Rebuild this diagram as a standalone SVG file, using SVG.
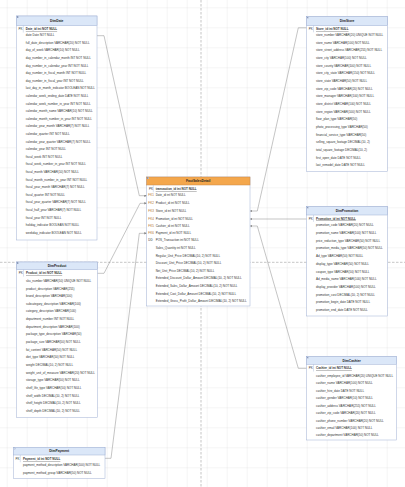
<svg xmlns="http://www.w3.org/2000/svg" width="405" height="487" viewBox="0 0 405 487">
<defs>
<pattern id="grid" patternUnits="userSpaceOnUse" x="6.7" y="7.3" width="20" height="20">
<path d="M0 0 H20 M0 0 V20" fill="none" stroke="#d8d8d8" stroke-width="0.5"/>
</pattern>
<marker id="arr" viewBox="0 0 6 6" refX="6" refY="3" markerWidth="2.4" markerHeight="2.4" markerUnits="userSpaceOnUse" orient="auto">
<path d="M0 0 L6 3 L0 6 z" fill="#808080"/>
</marker>
<style>
.box{fill:#fff;stroke:#9fb0d4;stroke-width:0.5}
.hdr{fill:#dbe7f8;stroke:#9fb0d4;stroke-width:0.5}
.hdrf{fill:#f4a74c;stroke:#c8894a;stroke-width:0.5}
.div{stroke:#9fb0d4;stroke-width:0.4}
.ico{fill:#c9d3e6;stroke:#8090b0;stroke-width:0.2}
.t{font-family:"Liberation Sans",Arial,sans-serif;font-size:3px;fill:#333}
.ttl{font-family:"Liberation Sans",Arial,sans-serif;font-size:3.3px;font-weight:bold;fill:#222;text-anchor:middle}
.pk{text-decoration:underline;font-weight:bold}
.lb{font-family:"Liberation Sans",Arial,sans-serif;font-size:3px;fill:#333}
.fk{fill:#b0722e}
.conn{fill:none;stroke:#8a8a8a;stroke-width:0.5}
.brk{stroke:#8a8a8a;stroke-width:0.5;stroke-dasharray:2.5,1.5}
</style>
</defs>
<rect width="405" height="487" fill="#fff"/>
<rect width="405" height="487" fill="url(#grid)"/>
<line class="brk" x1="201" y1="0" x2="201" y2="487"/>
<line class="brk" x1="0" y1="262.3" x2="405" y2="262.3"/>

<g id="connectors">
<path class="conn" d="M97,35.7 H104 L139.3,195.7 H146.7" marker-end="url(#arr)"/>
<path class="conn" d="M97.3,273.3 H104 L140,203.3 H146.7" marker-end="url(#arr)"/>
<path class="conn" d="M105,458.3 H111 L139.3,233.3 H146.7" marker-end="url(#arr)"/>
<path class="conn" d="M306.7,27.8 H298.3 L257.3,211 H250" marker-end="url(#arr)"/>
<path class="conn" d="M306.7,219 H250" marker-end="url(#arr)"/>
<path class="conn" d="M306.7,368.3 H298.3 L257.3,226 H250" marker-end="url(#arr)"/>
</g>

<g id="DimDate">
<rect class="box" x="16.5" y="16" width="80.5" height="224"/>
<rect class="hdr" x="16.5" y="16" width="80.5" height="9.7"/>
<rect class="ico" x="17.3" y="16.6" width="1.3" height="1.3"/>
<text class="ttl" x="56.75" y="22">DimDate</text>
<line class="div" x1="23.3" y1="25.7" x2="23.3" y2="32.5"/>
<text class="lb" x="18.5" y="30.1">PK</text>
<text class="t pk" x="25.8" y="30.1">Date_id int NOT NULL</text>
<text class="t" x="25.8" y="36.1">date Date NOT NULL</text>
<text class="t" x="25.8" y="43.7">full_date_description VARCHAR(20) NOT NULL</text>
<text class="t" x="25.8" y="51.3">day_of_week VARCHAR(10) NOT NULL</text>
<text class="t" x="25.8" y="58.9">day_number_in_calendar_month INT NOT NULL</text>
<text class="t" x="25.8" y="66.5">day_number_in_calendar_year INT NOT NULL</text>
<text class="t" x="25.8" y="74.1">day_number_in_fiscal_month INT NOT NULL</text>
<text class="t" x="25.8" y="81.7">day_number_in_fiscal_year INT NOT NULL</text>
<text class="t" x="25.8" y="89.3">last_day_in_month_indicator BOOLEAN NOT NULL</text>
<text class="t" x="25.8" y="96.9">calendar_week_ending_date DATE NOT NULL</text>
<text class="t" x="25.8" y="104.5">calendar_week_number_in_year INT NOT NULL</text>
<text class="t" x="25.8" y="112.1">calendar_month_name VARCHAR(10) NOT NULL</text>
<text class="t" x="25.8" y="119.7">calendar_month_number_in_year INT NOT NULL</text>
<text class="t" x="25.8" y="127.3">calendar_year_month VARCHAR(7) NOT NULL</text>
<text class="t" x="25.8" y="134.9">calendar_quarter INT NOT NULL</text>
<text class="t" x="25.8" y="142.5">calendar_year_quarter VARCHAR(7) NOT NULL</text>
<text class="t" x="25.8" y="150.1">calendar_year INT NOT NULL</text>
<text class="t" x="25.8" y="157.7">fiscal_week INT NOT NULL</text>
<text class="t" x="25.8" y="165.3">fiscal_week_number_in_year INT NOT NULL</text>
<text class="t" x="25.8" y="172.9">fiscal_month VARCHAR(10) NOT NULL</text>
<text class="t" x="25.8" y="180.5">fiscal_month_number_in_year INT NOT NULL</text>
<text class="t" x="25.8" y="188.1">fiscal_year_month VARCHAR(7) NOT NULL</text>
<text class="t" x="25.8" y="195.7">fiscal_quarter INT NOT NULL</text>
<text class="t" x="25.8" y="203.3">fiscal_year_quarter VARCHAR(7) NOT NULL</text>
<text class="t" x="25.8" y="210.9">fiscal_half_year VARCHAR(7) NOT NULL</text>
<text class="t" x="25.8" y="218.5">fiscal_year INT NOT NULL</text>
<text class="t" x="25.8" y="226.1">holiday_indicator BOOLEAN NOT NULL</text>
<text class="t" x="25.8" y="233.7">weekday_indicator BOOLEAN NOT NULL</text>
</g>

<g id="DimStore">
<rect class="box" x="306.7" y="16.7" width="80.6" height="155"/>
<rect class="hdr" x="306.7" y="16.7" width="80.6" height="9"/>
<rect class="ico" x="307.5" y="17.3" width="1.3" height="1.3"/>
<text class="ttl" x="347" y="22.3">DimStore</text>
<line class="div" x1="313.5" y1="25.7" x2="313.5" y2="32.3"/>
<text class="lb" x="308.7" y="30.1">PK</text>
<text class="t pk" x="316" y="30.1">Store_id int NOT NULL</text>
<text class="t" x="316" y="36.1">store_number VARCHAR(20) UNIQUE NOT NULL</text>
<text class="t" x="316" y="43.8">store_name VARCHAR(100) NOT NULL</text>
<text class="t" x="316" y="51.4">store_street_address VARCHAR(255) NOT NULL</text>
<text class="t" x="316" y="59.1">store_city VARCHAR(100) NOT NULL</text>
<text class="t" x="316" y="66.7">store_county VARCHAR(100) NOT NULL</text>
<text class="t" x="316" y="74.4">store_city_state VARCHAR(150) NOT NULL</text>
<text class="t" x="316" y="82.1">store_state VARCHAR(50) NOT NULL</text>
<text class="t" x="316" y="89.7">store_zip_code VARCHAR(20) NOT NULL</text>
<text class="t" x="316" y="97.4">store_manager VARCHAR(100) NOT NULL</text>
<text class="t" x="316" y="105">store_district VARCHAR(100) NOT NULL</text>
<text class="t" x="316" y="112.7">store_region VARCHAR(100) NOT NULL</text>
<text class="t" x="316" y="120.4">floor_plan_type VARCHAR(50)</text>
<text class="t" x="316" y="128">photo_processing_type VARCHAR(50)</text>
<text class="t" x="316" y="135.7">financial_service_type VARCHAR(50)</text>
<text class="t" x="316" y="143.3">selling_square_footage DECIMAL(10, 2)</text>
<text class="t" x="316" y="151">total_square_footage DECIMAL(10, 2)</text>
<text class="t" x="316" y="158.7">first_open_date DATE NOT NULL</text>
<text class="t" x="316" y="166.3">last_remodel_date DATE NOT NULL</text>
</g>

<g id="DimPromotion">
<rect class="box" x="306.7" y="206.7" width="80.6" height="109.3"/>
<rect class="hdr" x="306.7" y="206.7" width="80.6" height="8.3"/>
<rect class="ico" x="307.5" y="207.3" width="1.3" height="1.3"/>
<text class="ttl" x="347" y="212">DimPromotion</text>
<line class="div" x1="313.5" y1="215" x2="313.5" y2="221.8"/>
<text class="lb" x="308.7" y="219.6">PK</text>
<text class="t pk" x="316" y="219.6">Promotion_id int NOT NULL</text>
<text class="t" x="316" y="226.1">promotion_code VARCHAR(20) NOT NULL</text>
<text class="t" x="316" y="233.8">promotion_name VARCHAR(100) NOT NULL</text>
<text class="t" x="316" y="241.6">price_reduction_type VARCHAR(50) NOT NULL</text>
<text class="t" x="316" y="249.3">promotion_media_type VARCHAR(50) NOT NULL</text>
<text class="t" x="316" y="257">Ad_type VARCHAR(50) NOT NULL</text>
<text class="t" x="316" y="264.8">display_type VARCHAR(50) NOT NULL</text>
<text class="t" x="316" y="272.5">coupon_type VARCHAR(50) NOT NULL</text>
<text class="t" x="316" y="280.2">Ad_media_name VARCHAR(100) NOT NULL</text>
<text class="t" x="316" y="288">display_provider VARCHAR(100) NOT NULL</text>
<text class="t" x="316" y="295.7">promotion_cost DECIMAL(10, 2) NOT NULL</text>
<text class="t" x="316" y="303.4">promotion_begin_date DATE NOT NULL</text>
<text class="t" x="316" y="311.1">promotion_end_date DATE NOT NULL</text>
</g>

<g id="FactSalesDetail">
<rect class="box" x="146.7" y="177" width="103.3" height="129"/>
<rect class="hdrf" x="146.7" y="177" width="103.3" height="8"/>
<rect class="ico" x="147.5" y="177.6" width="1.3" height="1.3"/>
<text class="ttl" x="198.3" y="182.2">FactSalesDetail</text>
<line class="div" x1="153.3" y1="185" x2="153.3" y2="192.2"/>
<text class="lb" x="149" y="190.1">PK</text>
<text class="t pk" x="155.7" y="190.1">transaction_id int NOT NULL</text>
<text class="lb fk" x="148.3" y="196.1">FK1</text>
<text class="t" x="155.7" y="196.1">Date_id int NOT NULL</text>
<text class="lb fk" x="148.3" y="203.7">FK2</text>
<text class="t" x="155.7" y="203.7">Product_id int NOT NULL</text>
<text class="lb fk" x="148.3" y="211.8">FK3</text>
<text class="t" x="155.7" y="211.8">Store_id int NOT NULL</text>
<text class="lb fk" x="148.3" y="219.8">FK4</text>
<text class="t" x="155.7" y="219.8">Promotion_id int NOT NULL</text>
<text class="lb fk" x="148.3" y="226.8">FK5</text>
<text class="t" x="155.7" y="226.8">Cashier_id int NOT NULL</text>
<text class="lb fk" x="148.3" y="234.1">FK6</text>
<text class="t" x="155.7" y="234.1">Payment_id int NOT NULL</text>
<text class="lb" x="148.3" y="241.4">DD</text>
<text class="t" x="155.7" y="241.4">POS_Transaction int NOT NULL</text>
<text class="t" x="155.7" y="249.3">Sales_Quantity int NOT NULL</text>
<text class="t" x="155.7" y="256.8">Regular_Unit_Price DECIMAL(10, 2) NOT NULL</text>
<text class="t" x="155.7" y="264.4">Discount_Unit_Price DECIMAL(10, 2) NOT NULL</text>
<text class="t" x="155.7" y="271.8">Net_Unit_Price DECIMAL(10, 2) NOT NULL</text>
<text class="t" x="155.7" y="279.4">Extended_Discount_Dollar_Amount DECIMAL(10, 2) NOT NULL</text>
<text class="t" x="155.7" y="287.1">Extended_Sales_Dollar_Amount DECIMAL(10, 2) NOT NULL</text>
<text class="t" x="155.7" y="294.8">Extended_Cost_Dollar_Amount DECIMAL(10, 2) NOT NULL</text>
<text class="t" x="155.7" y="301.8">Extended_Gross_Profit_Dollar_Amount DECIMAL(10, 2) NOT NULL</text>
</g>

<g id="DimProduct">
<rect class="box" x="16.7" y="262" width="80.6" height="155.3"/>
<rect class="hdr" x="16.7" y="262" width="80.6" height="7.7"/>
<rect class="ico" x="17.5" y="262.6" width="1.3" height="1.3"/>
<text class="ttl" x="57" y="267">DimProduct</text>
<line class="div" x1="23.5" y1="269.7" x2="23.5" y2="276.6"/>
<text class="lb" x="18.7" y="274.4">PK</text>
<text class="t pk" x="26" y="274.4">Product_id int NOT NULL</text>
<text class="t" x="26" y="281.8">sku_number VARCHAR(50) UNIQUE NOT NULL</text>
<text class="t" x="26" y="289.5">product_description VARCHAR(255)</text>
<text class="t" x="26" y="297.1">brand_description VARCHAR(100)</text>
<text class="t" x="26" y="304.8">subcategory_description VARCHAR(100)</text>
<text class="t" x="26" y="312.4">category_description VARCHAR(100)</text>
<text class="t" x="26" y="320.1">department_number INT NOT NULL</text>
<text class="t" x="26" y="327.7">department_description VARCHAR(100)</text>
<text class="t" x="26" y="335.4">package_type_description VARCHAR(50)</text>
<text class="t" x="26" y="343">package_size VARCHAR(50) NOT NULL</text>
<text class="t" x="26" y="350.7">fat_content VARCHAR(50) NOT NULL</text>
<text class="t" x="26" y="358.3">diet_type VARCHAR(50) NOT NULL</text>
<text class="t" x="26" y="366">weight DECIMAL(10, 2) NOT NULL</text>
<text class="t" x="26" y="373.6">weight_unit_of_measure VARCHAR(20) NOT NULL</text>
<text class="t" x="26" y="381.3">storage_type VARCHAR(50) NOT NULL</text>
<text class="t" x="26" y="388.9">shelf_life_type VARCHAR(50) NOT NULL</text>
<text class="t" x="26" y="396.6">shelf_width DECIMAL(10, 2) NOT NULL</text>
<text class="t" x="26" y="404.2">shelf_height DECIMAL(10, 2) NOT NULL</text>
<text class="t" x="26" y="411.8">shelf_depth DECIMAL(10, 2) NOT NULL</text>
</g>

<g id="DimCashier">
<rect class="box" x="306.7" y="356.7" width="90" height="83.3"/>
<rect class="hdr" x="306.7" y="356.7" width="90" height="7.6"/>
<rect class="ico" x="307.5" y="357.3" width="1.3" height="1.3"/>
<text class="ttl" x="351.7" y="361.7">DimCashier</text>
<line class="div" x1="313.5" y1="364.3" x2="313.5" y2="371.5"/>
<text class="lb" x="308.7" y="369.4">PK</text>
<text class="t pk" x="316" y="369.4">Cashier_id int NOT NULL</text>
<text class="t" x="316" y="376.8">cashier_employee_id VARCHAR(20) UNIQUE NOT NULL</text>
<text class="t" x="316" y="384.2">cashier_name VARCHAR(100) NOT NULL</text>
<text class="t" x="316" y="391.7">cashier_hire_date DATE NOT NULL</text>
<text class="t" x="316" y="399.1">cashier_gender VARCHAR(10) NOT NULL</text>
<text class="t" x="316" y="406.6">cashier_address VARCHAR(255) NOT NULL</text>
<text class="t" x="316" y="414">cashier_zip_code VARCHAR(20) NOT NULL</text>
<text class="t" x="316" y="421.5">cashier_phone_number VARCHAR(20) NOT NULL</text>
<text class="t" x="316" y="428.9">cashier_email VARCHAR(100) NOT NULL</text>
<text class="t" x="316" y="436.4">cashier_department VARCHAR(50) NOT NULL</text>
</g>

<g id="DimPayment">
<rect class="box" x="13.3" y="447.3" width="91.7" height="31"/>
<rect class="hdr" x="13.3" y="447.3" width="91.7" height="7.7"/>
<rect class="ico" x="14.1" y="447.9" width="1.3" height="1.3"/>
<text class="ttl" x="59.2" y="452.3">DimPayment</text>
<line class="div" x1="20.3" y1="455" x2="20.3" y2="462.2"/>
<text class="lb" x="15.5" y="460.1">PK</text>
<text class="t pk" x="23" y="460.1">Payment_id int NOT NULL</text>
<text class="t" x="23" y="466.1">payment_method_description VARCHAR(100) NOT NULL</text>
<text class="t" x="23" y="474.4">payment_method_group VARCHAR(50) NOT NULL</text>
</g>
</svg>
